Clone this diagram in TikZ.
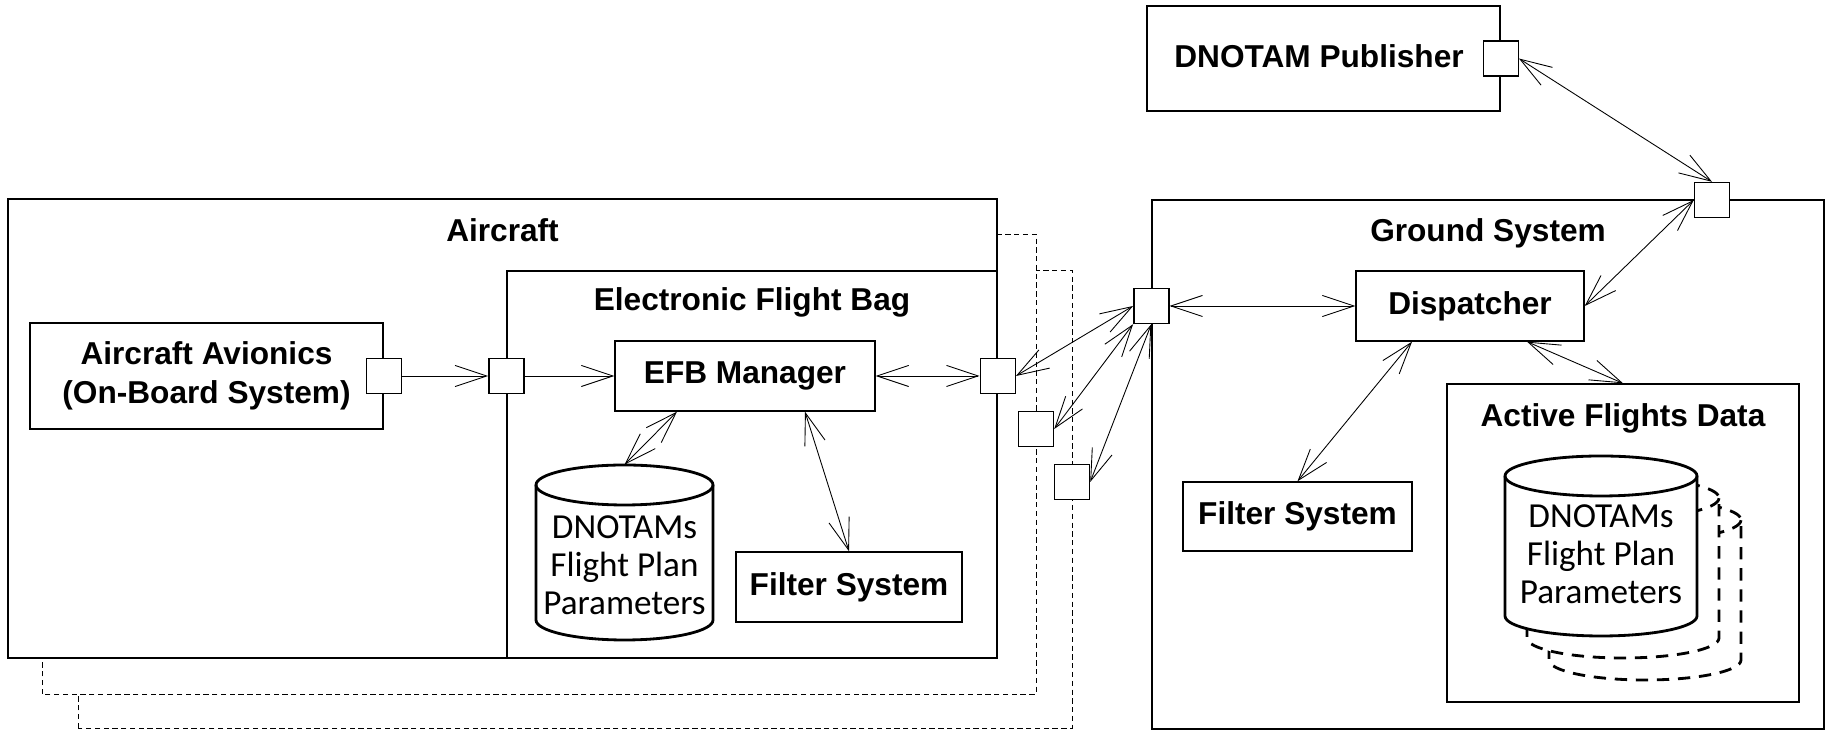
\documentclass[tikz,border=0pt]{standalone}
\usepackage{fontspec}
\setmainfont{Liberation Sans}
\newfontfamily\dbfont{Carlito}
\usetikzlibrary{arrows.meta,positioning}
\tikzset{
  box/.style={draw, line width=0.8pt, fill=white, inner sep=0pt},
  labelbox/.style={box, font=\fontsize{18}{22}\selectfont\bfseries, align=center},
  title/.style={font=\fontsize{18}{22}\selectfont\bfseries, inner sep=0pt,
    text height=0.45cm, text depth=0.12cm, align=center},
  port/.style={draw, line width=0.8pt, fill=white, minimum size=0.7cm, inner sep=0pt},
  link/.style={line width=0.5pt},
  shadowline/.style={line width=0.5pt, dash pattern=on 3pt off 2pt},
  dbline/.style={line width=1.6pt, fill=white},
  dbshadow/.style={line width=1.6pt, fill=white, dash pattern=on 7pt off 5pt},
  dbtext/.style={font=\dbfont\fontsize{20}{21.5}\selectfont, align=center, inner sep=0pt},
}
% cylinder: options, centre, half width, half height
\newcommand{\dbcyl}[4]{%
  \draw[#1] (#2) ++(-#3,#4-0.4) -- ++(0,-2*#4+0.8)
    arc[start angle=180,end angle=360,x radius=#3,y radius=0.4]
    -- ++(0,2*#4-0.8)
    arc[start angle=0,end angle=180,x radius=#3,y radius=0.4] -- cycle;
  \draw[#1,fill=none] (#2) ++(-#3,#4-0.4)
    arc[start angle=180,end angle=360,x radius=#3,y radius=0.4];
}
\begin{document}
\begin{tikzpicture}[>={Straight Barb[length=18pt,width=12pt]}, line join=miter]
\useasboundingbox (0,0) rectangle (36.74,14.70);

% aircraft and its stacked copies
\draw[shadowline] (1.56,0.14) rectangle (21.44,9.30);
\draw[shadowline,fill=white] (0.84,0.82) rectangle (20.72,10.02);
\node[box, minimum width=19.78cm, minimum height=9.18cm] (aircraft) at (10.05,6.13) {};
\node[title, below=0.40cm of aircraft.north] (aircrafttitle) {Aircraft};
\node[labelbox, minimum width=7.06cm, minimum height=2.12cm] (avionics) at (4.13,7.18) {Aircraft Avionics\\(On-Board System)};

% electronic flight bag
\node[box, minimum width=9.80cm, minimum height=7.74cm] (efb) at (15.04,5.41) {};
\node[title, below=0.34cm of efb.north] (efbtitle) {Electronic Flight Bag};
\node[labelbox, minimum width=5.20cm, minimum height=1.40cm] (efbmgr) at (14.90,7.18) {EFB Manager};
\node[labelbox, minimum width=4.52cm, minimum height=1.40cm] (efbfilter) at (16.98,2.96) {Filter System};
\dbcyl{dbline}{12.49,3.65}{1.77}{1.75}
\node[dbtext, minimum width=3.54cm, minimum height=4.0cm] (efbdb) at (12.49,3.40) {DNOTAMs\\Flight Plan\\Parameters};

% ground side
\node[box, minimum width=13.44cm, minimum height=10.58cm] (ground) at (29.76,5.41) {};
\node[title, below=0.38cm of ground.north] (groundtitle) {Ground System};
\node[labelbox, minimum width=4.56cm, minimum height=1.40cm] (dispatcher) at (29.40,8.58) {Dispatcher};
\node[labelbox, minimum width=4.58cm, minimum height=1.38cm] (gfilter) at (25.95,4.37) {Filter System};
\node[box, minimum width=7.04cm, minimum height=6.36cm] (afd) at (32.46,3.84) {};
\node[title, below=0.41cm of afd.north] (afdtitle) {Active Flights Data};
\dbcyl{dbshadow}{32.90,2.90}{1.92}{1.80}
\dbcyl{dbshadow}{32.46,3.34}{1.92}{1.80}
\dbcyl{dbline}{32.02,3.78}{1.92}{1.80}
\node[dbtext] (afddb) at (32.02,3.62) {DNOTAMs\\Flight Plan\\Parameters};

\node[box, minimum width=7.06cm, minimum height=2.10cm] (publisher) at (26.47,13.53) {};
\node[title] (pubtitle) at (26.38,13.52) {DNOTAM Publisher};

% ports
\node[port] (avport) at (avionics.east) {};
\node[port] (efbin) at (efb.west |- efbmgr) {};
\node[port] (efbout) at (efb.east |- efbmgr) {};
\node[port] (linkA) at (20.72,6.12) {};
\node[port] (linkB) at (21.44,5.06) {};
\node[port] (groundin) at (ground.west |- dispatcher) {};
\node[port] (groundpub) at (34.24,10.70) {};
\node[port] (pubport) at (publisher.east) {};

% connectors
\draw[link,->] (avport) -- (efbin);
\draw[link,->] (efbin) -- (efbmgr);
\draw[link,<->] (efbmgr) -- (efbout);
\draw[link,<->] (efbout.east) -- (groundin.west);
\draw[link,<->] (linkA.east) -- (groundin.south west);
\draw[link,<->] (linkB.east) -- (groundin.south);
\draw[link,<->] (groundin) -- (dispatcher);
\draw[link,<->] (dispatcher.east) -- (groundpub.west);
\draw[link,<->] (groundpub.north) -- (pubport.east);
\draw[link,<->] ([xshift=1.14cm]dispatcher.south) -- (afd.north);
\draw[link,<->] ([xshift=-1.16cm]dispatcher.south) -- (gfilter.north);
\draw[link,<->] ([xshift=-1.36cm]efbmgr.south) -- (efbdb.north);
\draw[link,<->] ([xshift=1.2cm]efbmgr.south) -- (efbfilter.north);
\end{tikzpicture}
\end{document}
